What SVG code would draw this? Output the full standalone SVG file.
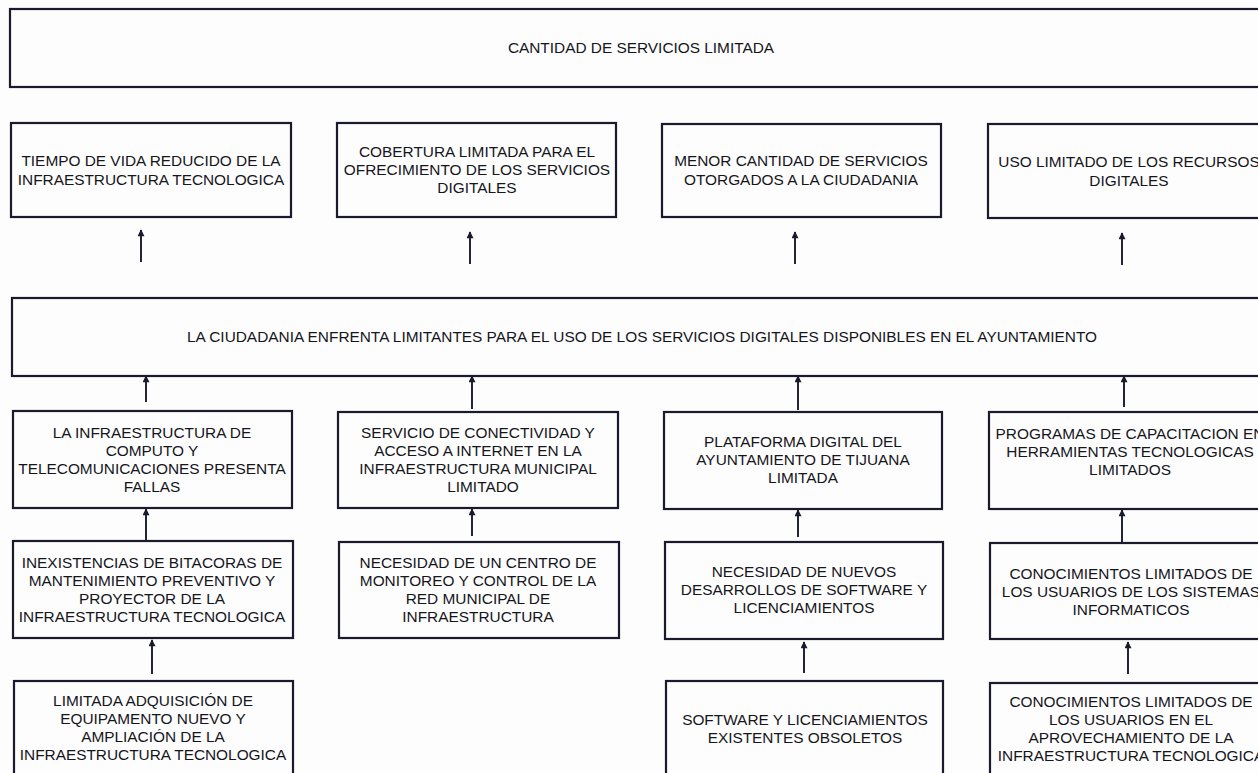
<svg xmlns="http://www.w3.org/2000/svg" width="1258" height="773" viewBox="0 0 1258 773">
<style>
.b{fill:none;stroke:#1a1a2e;stroke-width:2.2}
.t{font-family:"Liberation Sans",Arial,sans-serif;font-size:15.4px;fill:#15151c;text-anchor:middle}
.c{stroke:#1a1a2e;stroke-width:1.9;fill:none;marker-end:url(#ah)}
</style>
<defs>
<marker id="ah" viewBox="0 0 10 10" refX="9" refY="5" markerWidth="8" markerHeight="7" markerUnits="userSpaceOnUse" orient="auto">
<path d="M0,0 L10,5 L0,10 Z" fill="#1a1a2e"/>
</marker>
</defs>
<rect width="1258" height="773" fill="#fdfdfd"/>
<g id="top"><rect class="b" x="10" y="9" width="1262" height="78"/><text class="t" x="641" y="53">CANTIDAD DE SERVICIOS LIMITADA</text></g>
<g id="e1"><rect class="b" x="11" y="123" width="280" height="94"/><text class="t" x="151" y="166">TIEMPO DE VIDA REDUCIDO DE LA</text><text class="t" x="151" y="185">INFRAESTRUCTURA TECNOLOGICA</text></g>
<g id="e2"><rect class="b" x="337" y="123" width="279" height="94"/><text class="t" x="477" y="157">COBERTURA LIMITADA PARA EL</text><text class="t" x="477" y="175">OFRECIMIENTO DE LOS SERVICIOS</text><text class="t" x="477" y="193">DIGITALES</text></g>
<g id="e3"><rect class="b" x="662" y="124" width="279" height="93"/><text class="t" x="801" y="166">MENOR CANTIDAD DE SERVICIOS</text><text class="t" x="801" y="185">OTORGADOS A LA CIUDADANIA</text></g>
<g id="e4"><rect class="b" x="988" y="124" width="279" height="94"/><text class="t" x="1129" y="167">USO LIMITADO DE LOS RECURSOS</text><text class="t" x="1129" y="186">DIGITALES</text></g>
<g id="main"><rect class="b" x="12" y="298" width="1260" height="78"/><text class="t" x="642" y="342">LA CIUDADANIA ENFRENTA LIMITANTES PARA EL USO DE LOS SERVICIOS DIGITALES DISPONIBLES EN EL AYUNTAMIENTO</text></g>
<g id="c1"><rect class="b" x="13" y="411" width="279" height="97"/><text class="t" x="152" y="438">LA INFRAESTRUCTURA DE</text><text class="t" x="152" y="456">COMPUTO Y</text><text class="t" x="152" y="474">TELECOMUNICACIONES PRESENTA</text><text class="t" x="152" y="492">FALLAS</text></g>
<g id="c2"><rect class="b" x="338" y="412" width="280" height="96"/><text class="t" x="478" y="438">SERVICIO DE CONECTIVIDAD Y</text><text class="t" x="478" y="456">ACCESO A INTERNET EN LA</text><text class="t" x="478" y="474">INFRAESTRUCTURA MUNICIPAL</text><text class="t" x="483" y="492">LIMITADO</text></g>
<g id="c3"><rect class="b" x="664" y="412" width="278" height="97"/><text class="t" x="803" y="447">PLATAFORMA DIGITAL DEL</text><text class="t" x="803" y="465">AYUNTAMIENTO DE TIJUANA</text><text class="t" x="803" y="483">LIMITADA</text></g>
<g id="c4"><rect class="b" x="989" y="412" width="279" height="97"/><text class="t" x="1130" y="439">PROGRAMAS DE CAPACITACION EN</text><text class="t" x="1130" y="457">HERRAMIENTAS TECNOLOGICAS</text><text class="t" x="1130" y="475">LIMITADOS</text></g>
<g id="d1"><rect class="b" x="13" y="541" width="280" height="97"/><text class="t" x="152" y="568">INEXISTENCIAS DE BITACORAS DE</text><text class="t" x="152" y="586">MANTENIMIENTO PREVENTIVO Y</text><text class="t" x="152" y="604">PROYECTOR DE LA</text><text class="t" x="152" y="622">INFRAESTRUCTURA TECNOLOGICA</text></g>
<g id="d2"><rect class="b" x="339" y="542" width="280" height="96"/><text class="t" x="478" y="568">NECESIDAD DE UN CENTRO DE</text><text class="t" x="478" y="586">MONITOREO Y CONTROL DE LA</text><text class="t" x="478" y="604">RED MUNICIPAL DE</text><text class="t" x="478" y="622">INFRAESTRUCTURA</text></g>
<g id="d3"><rect class="b" x="665" y="542" width="278" height="97"/><text class="t" x="804" y="577">NECESIDAD DE NUEVOS</text><text class="t" x="804" y="595">DESARROLLOS DE SOFTWARE Y</text><text class="t" x="804" y="613">LICENCIAMIENTOS</text></g>
<g id="d4"><rect class="b" x="990" y="543" width="279" height="96"/><text class="t" x="1131" y="579">CONOCIMIENTOS LIMITADOS DE</text><text class="t" x="1131" y="597">LOS USUARIOS DE LOS SISTEMAS</text><text class="t" x="1131" y="615">INFORMATICOS</text></g>
<g id="f1"><rect class="b" x="14" y="681" width="279" height="97"/><text class="t" x="153" y="706">LIMITADA ADQUISICIÓN DE</text><text class="t" x="153" y="724">EQUIPAMENTO NUEVO Y</text><text class="t" x="153" y="742">AMPLIACIÓN DE LA</text><text class="t" x="153" y="760">INFRAESTRUCTURA TECNOLOGICA</text></g>
<g id="f3"><rect class="b" x="666" y="681" width="277" height="97"/><text class="t" x="805" y="725">SOFTWARE Y LICENCIAMIENTOS</text><text class="t" x="805" y="743">EXISTENTES OBSOLETOS</text></g>
<g id="f4"><rect class="b" x="990" y="683" width="279" height="97"/><text class="t" x="1131" y="707">CONOCIMIENTOS LIMITADOS DE</text><text class="t" x="1131" y="725">LOS USUARIOS EN EL</text><text class="t" x="1131" y="743">APROVECHAMIENTO DE LA</text><text class="t" x="1131" y="761">INFRAESTRUCTURA TECNOLOGICA</text></g>
<g id="connectors">
<line class="c" x1="141" y1="262" x2="141" y2="230"/>
<line class="c" x1="470" y1="264" x2="470" y2="232"/>
<line class="c" x1="795" y1="264" x2="795" y2="232"/>
<line class="c" x1="1122" y1="265" x2="1122" y2="233"/>
<line class="c" x1="146" y1="402" x2="146" y2="376"/>
<line class="c" x1="472" y1="409" x2="472" y2="376"/>
<line class="c" x1="798" y1="410" x2="798" y2="376"/>
<line class="c" x1="1124" y1="407" x2="1124" y2="376"/>
<line class="c" x1="146" y1="540" x2="146" y2="509"/>
<line class="c" x1="472" y1="536" x2="472" y2="509"/>
<line class="c" x1="798" y1="537" x2="798" y2="510"/>
<line class="c" x1="1122" y1="542" x2="1122" y2="510"/>
<line class="c" x1="152" y1="674" x2="152" y2="640"/>
<line class="c" x1="804" y1="673" x2="804" y2="642"/>
<line class="c" x1="1128" y1="674" x2="1128" y2="642"/>
</g>
</svg>
